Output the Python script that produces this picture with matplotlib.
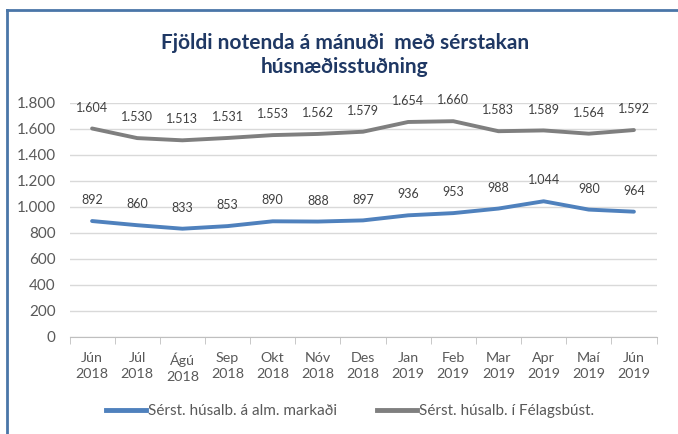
import matplotlib.pyplot as plt
from matplotlib.lines import Line2D

plt.rcParams['font.family'] = ['Lato', 'DejaVu Sans']

# Mánuðir (flokkar á x-ás)
manudir = ['Jún\n2018', 'Júl\n2018', 'Ágú\n2018', 'Sep\n2018', 'Okt\n2018', 'Nóv\n2018', 'Des\n2018',
           'Jan\n2019', 'Feb\n2019', 'Mar\n2019', 'Apr\n2019', 'Maí\n2019', 'Jún\n2019']
# Sérst. húsalb. á alm. markaði
alm_markadur = [892, 860, 833, 853, 890, 888, 897, 936, 953, 988, 1044, 980, 964]
# Sérst. húsalb. í Félagsbúst.
felagsbust = [1604, 1530, 1513, 1531, 1553, 1562, 1579, 1654, 1660, 1583, 1589, 1564, 1592]

BLAR = '#4F81BD'
GRAR = '#7F7F7F'
TEXTI = '#595959'


def fmt(v):
    # Íslensk þúsundaskil: punktur
    return f'{v:,}'.replace(',', '.')


fig = plt.figure(figsize=(6.78, 4.34), dpi=100)
ax = fig.add_axes([69.5 / 678, 1 - 337 / 434, (656.5 - 69.5) / 678, (337 - 103) / 434])

x = list(range(len(manudir)))
ax.plot(x, alm_markadur, color=BLAR, lw=2.8, solid_capstyle='round', solid_joinstyle='round')
ax.plot(x, felagsbust, color=GRAR, lw=2.8, solid_capstyle='round', solid_joinstyle='round')

for xi, v in zip(x, alm_markadur):
    ax.annotate(fmt(v), (xi, v), xytext=(0, 15), textcoords='offset points',
                ha='center', va='center', fontsize=9, color='#404040')
for xi, v in zip(x, felagsbust):
    ax.annotate(fmt(v), (xi, v), xytext=(0, 15), textcoords='offset points',
                ha='center', va='center', fontsize=9, color='#404040')

ax.set_xlim(-0.5, len(manudir) - 0.5)
ax.set_ylim(0, 1800)
ax.set_yticks(range(0, 1801, 200))
ax.set_yticklabels([fmt(v) for v in range(0, 1801, 200)], fontsize=11, color=TEXTI)
ax.yaxis.grid(True, color='#D9D9D9', lw=1)
ax.set_axisbelow(True)
ax.tick_params(axis='y', length=0, pad=10)

ax.set_xticks(x)
ax.set_xticklabels(manudir, fontsize=10.3, color=TEXTI, linespacing=1.4)
ax.set_xticks([i - 0.5 for i in range(len(manudir) + 1)], minor=True)
ax.tick_params(axis='x', which='major', length=0, pad=11)
ax.tick_params(axis='x', which='minor', length=5, color='#BFBFBF')

for s in ['top', 'right', 'left']:
    ax.spines[s].set_visible(False)
ax.spines['bottom'].set_color('#BFBFBF')

fig.text(345 / 678, 1 - 55 / 434, 'Fjöldi notenda á mánuði  með sérstakan\nhúsnæðisstuðning',
         ha='center', va='center', fontsize=15, fontweight='bold', color='#1F3864', linespacing=1.3)

handles = [Line2D([], [], color=BLAR, lw=3.5), Line2D([], [], color=GRAR, lw=3.5)]
fig.legend(handles, ['Sérst. húsalb. á alm. markaði', 'Sérst. húsalb. í Félagsbúst.'],
           loc='center', bbox_to_anchor=(350 / 678, 1 - 411 / 434), ncol=2, frameon=False,
           fontsize=11, labelcolor=TEXTI, handlelength=2.6, handletextpad=0.15, columnspacing=2.6)

# Rammi: blá lína efst og vinstra megin
fig.add_artist(Line2D([6.5 / 678, 6.5 / 678], [0, 1 - 10 / 434], color='#4A76A8', lw=2))
fig.add_artist(Line2D([6.5 / 678, 1], [1 - 10 / 434, 1 - 10 / 434], color='#4A76A8', lw=2))

fig.savefig('out.png', dpi=100)
